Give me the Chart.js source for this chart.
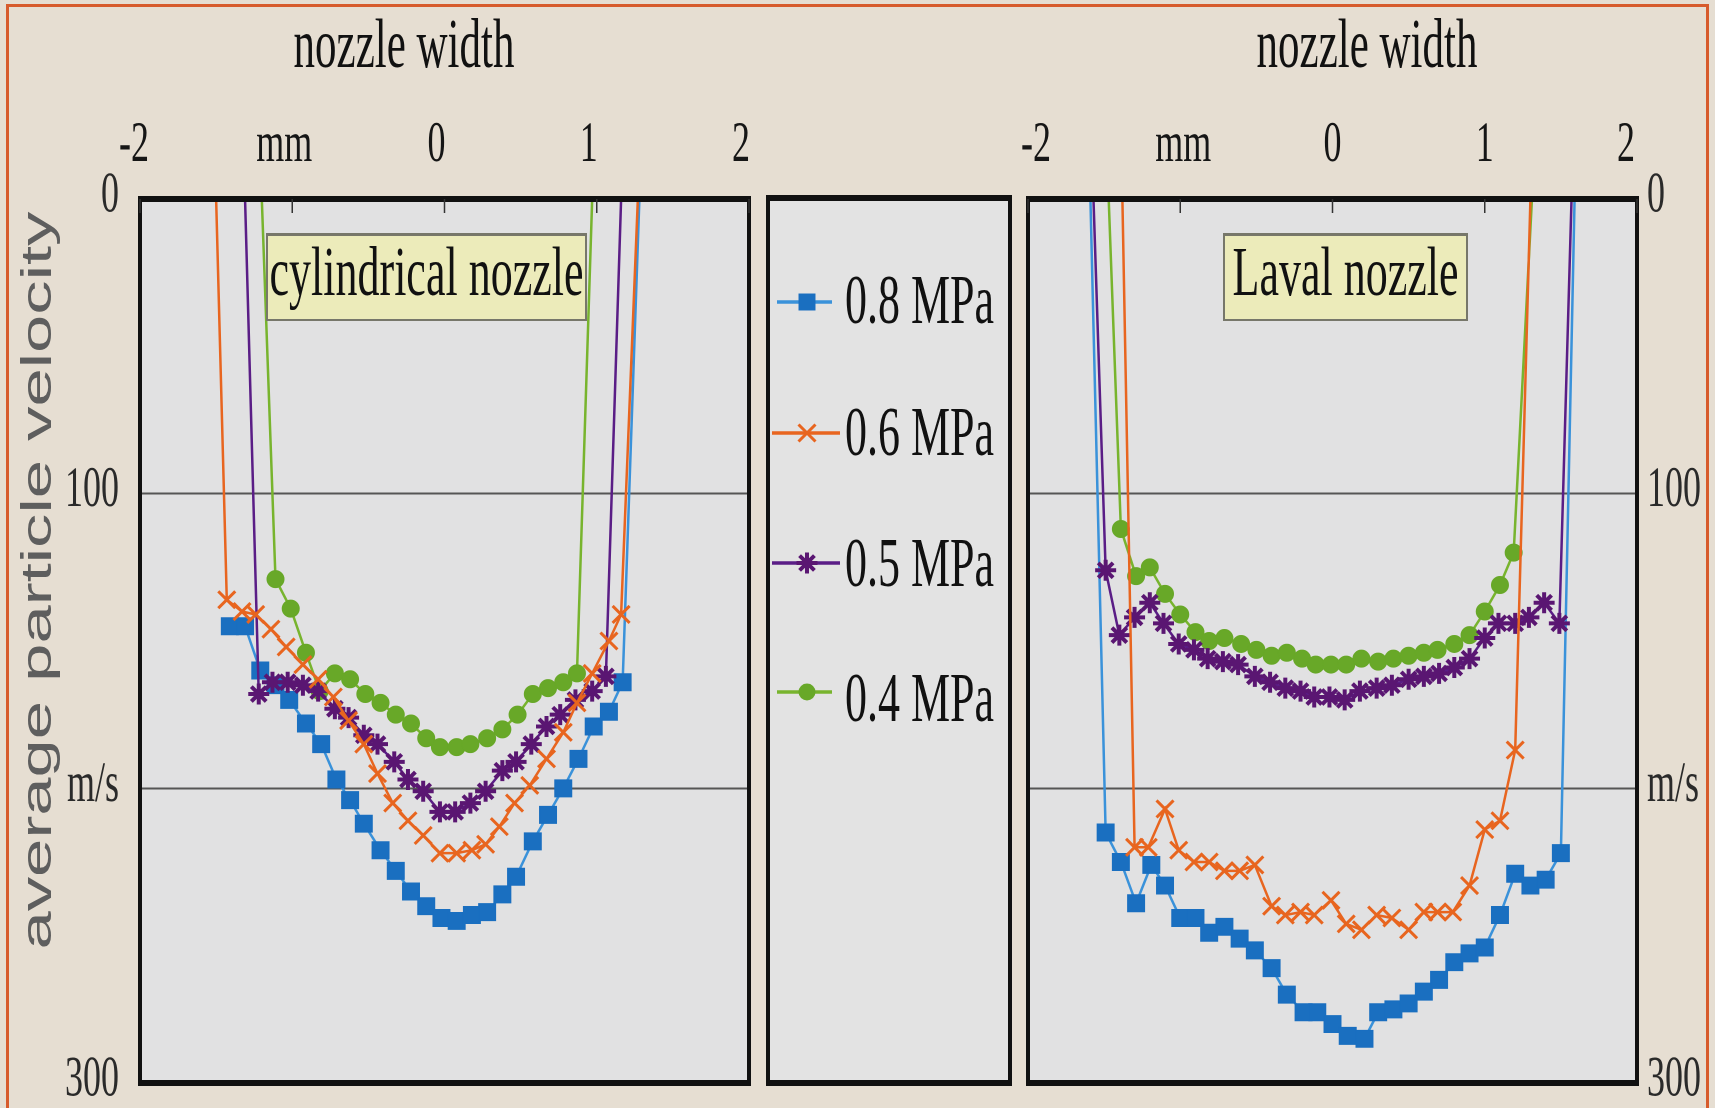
<!DOCTYPE html>
<html>
<head>
<meta charset="utf-8">
<title>average particle velocity - cylindrical / Laval nozzle</title>
<script src="https://cdn.jsdelivr.net/npm/chart.js@4.4.1/dist/chart.umd.min.js"></script>
<style>
  html, body { margin: 0; padding: 0; background: #e6ded2; }
  #stage { position: relative; width: 1715px; height: 1108px; overflow: hidden; background: #e6ded2; }
  .frame { position: absolute; left: 6px; top: 4px; width: 1703px; height: 1300px; box-sizing: border-box; border: 3px solid #d75b2c; }
  .wrap { position: absolute; top: 0; height: 1108px; }
  .tall { position: absolute; font-family: "Liberation Serif", "Times New Roman", serif; color: #111;
          white-space: nowrap; transform: scaleY(1.6); transform-origin: 50% 50%; }
  .ttl { font-size: 43px; line-height: 43px; height: 43px; width: 400px; text-align: center; top: 22px; }
  #legendBox { position: absolute; left: 766px; top: 195px; width: 246px; height: 891px; box-sizing: border-box;
               background: #e3e3e3; border-left: 4px solid #111; border-right: 4px solid #111;
               border-top: 6px solid #111; border-bottom: 6px solid #111; }
  #legendMarks { position: absolute; left: 766px; top: 195px; }
  .leg { font-size: 44px; line-height: 44px; height: 44px; left: 845px; transform-origin: 0 50%; }
  .note { position: absolute; top: 233px; height: 88px; box-sizing: border-box; background: #ecebba;
          border: 2px solid #77776a; border-top-width: 3px; display: flex; justify-content: center; padding-top: 15px; }
  .note span { position: static; font-size: 44px; line-height: 44px; height: 44px; }
  #yTitle { position: absolute; left: -264px; top: 559px; width: 600px; height: 43px; line-height: 43px;
            text-align: center; font-family: "Liberation Sans", Arial, sans-serif; font-size: 43px; color: #5e5e5e;
            transform: rotate(-90deg) scaleX(1.6); transform-origin: 50% 50%; white-space: nowrap; }
</style>
</head>
<body>
<div id="stage">
  <div class="frame"></div>

  <div class="tall ttl" style="left:204px">nozzle width</div>
  <div class="tall ttl" style="left:1167px">nozzle width</div>
  <div id="yTitle">average particle velocity</div>

  <div class="wrap" style="left:0; width:790px"><canvas id="cylChart"></canvas></div>
  <div class="wrap" style="left:1000px; width:715px"><canvas id="lavChart"></canvas></div>

  <div id="legendBox"></div>
  <canvas id="legendMarks" width="246" height="891"></canvas>
  <div class="tall leg" style="top:279px" id="leg0"></div>
  <div class="tall leg" style="top:411px" id="leg1"></div>
  <div class="tall leg" style="top:542px" id="leg2"></div>
  <div class="tall leg" style="top:677px" id="leg3"></div>

  <div class="note" style="left:266px; width:321px"><span class="tall">cylindrical nozzle</span></div>
  <div class="note" style="left:1223px; width:245px"><span class="tall">Laval nozzle</span></div>
</div>

<script>
// --- データ ---
// x: nozzle width [mm], y: average particle velocity [m/s], 0 = wall (top edge)
const xTickValues = [-2, -1, 0, 1, 2];
const xTickLabels = ['-2', 'mm', '0', '1', '2'];
const yTickValues = [0, 100, 200, 300];
const yTickLabels = ['0', '100', 'm/s', '300'];
const pressures = ['0.8 MPa', '0.6 MPa', '0.5 MPa', '0.4 MPa'];

// cylindrical nozzle
const cyl08 = [
  [-1.41, 145], [-1.31, 145], [-1.21, 160], [-1.11, 165], [-1.02, 170],
  [-0.91, 178], [-0.81, 185], [-0.71, 197], [-0.62, 204], [-0.53, 212],
  [-0.42, 221], [-0.32, 228], [-0.22, 235], [-0.12, 240], [-0.02, 244],
  [0.08, 245], [0.18, 243], [0.28, 242], [0.38, 236], [0.47, 230],
  [0.58, 218], [0.68, 209], [0.78, 200], [0.88, 190], [0.98, 179],
  [1.08, 174], [1.17, 164], [1.28, 0]
];
const cyl06 = [
  [-1.50, 0], [-1.43, 136], [-1.33, 140], [-1.24, 141], [-1.14, 146],
  [-1.04, 152], [-0.93, 158], [-0.83, 163], [-0.73, 169], [-0.63, 177],
  [-0.53, 185], [-0.44, 195], [-0.34, 205], [-0.24, 211], [-0.14, 216],
  [-0.03, 222], [0.08, 222], [0.18, 221], [0.27, 219], [0.36, 213],
  [0.46, 205], [0.56, 199], [0.67, 190], [0.78, 181], [0.87, 171],
  [0.97, 161], [1.08, 150], [1.16, 141], [1.27, 0]
];
const cyl05 = [
  [-1.31, 0], [-1.22, 168], [-1.13, 164], [-1.03, 164], [-0.93, 165],
  [-0.83, 167], [-0.72, 173], [-0.63, 176], [-0.53, 182], [-0.44, 185],
  [-0.33, 191], [-0.24, 197], [-0.14, 201], [-0.03, 208], [0.07, 208],
  [0.17, 205], [0.27, 201], [0.38, 194], [0.47, 191], [0.57, 185],
  [0.67, 179], [0.76, 175], [0.86, 170], [0.97, 167], [1.06, 162],
  [1.16, 0]
];
const cyl04 = [
  [-1.20, 0], [-1.11, 129], [-1.01, 139], [-0.91, 154], [-0.82, 167],
  [-0.72, 161], [-0.62, 163], [-0.52, 168], [-0.42, 171], [-0.32, 175],
  [-0.22, 178], [-0.12, 183], [-0.03, 186], [0.08, 186], [0.17, 185],
  [0.28, 183], [0.38, 180], [0.48, 175], [0.58, 168], [0.68, 166],
  [0.78, 164], [0.87, 161], [0.97, 0]
];

// Laval nozzle
const lav08 = [
  [-1.59, 0], [-1.49, 215], [-1.39, 225], [-1.29, 239], [-1.19, 226],
  [-1.10, 233], [-1.00, 244], [-0.90, 244], [-0.81, 249], [-0.71, 247],
  [-0.61, 251], [-0.51, 255], [-0.40, 261], [-0.30, 270], [-0.19, 276],
  [-0.10, 276], [0.00, 280], [0.10, 284], [0.21, 285], [0.30, 276],
  [0.40, 275], [0.50, 273], [0.60, 269], [0.70, 265], [0.80, 259],
  [0.90, 256], [1.00, 254], [1.10, 243], [1.20, 229], [1.30, 233],
  [1.40, 231], [1.50, 222], [1.59, 0]
];
const lav06 = [
  [-1.38, 0], [-1.30, 220], [-1.21, 220], [-1.10, 207], [-1.01, 221],
  [-0.91, 225], [-0.81, 225], [-0.71, 228], [-0.61, 228], [-0.51, 226],
  [-0.40, 240], [-0.31, 243], [-0.21, 242], [-0.12, 243], [-0.01, 238],
  [0.09, 246], [0.19, 248], [0.29, 243], [0.39, 244], [0.50, 248],
  [0.60, 242], [0.69, 242], [0.79, 242], [0.90, 233], [1.00, 214],
  [1.10, 211], [1.20, 187], [1.30, 0]
];
const lav05 = [
  [-1.57, 0], [-1.49, 126], [-1.40, 148], [-1.30, 142], [-1.20, 137],
  [-1.11, 144], [-1.01, 151], [-0.91, 153], [-0.82, 156], [-0.72, 157],
  [-0.62, 158], [-0.51, 162], [-0.41, 164], [-0.31, 166], [-0.21, 167],
  [-0.12, 169], [-0.02, 169], [0.08, 170], [0.18, 167], [0.29, 166],
  [0.39, 165], [0.50, 163], [0.60, 162], [0.70, 161], [0.80, 159],
  [0.90, 156], [1.00, 149], [1.09, 144], [1.20, 144], [1.29, 142],
  [1.39, 137], [1.49, 144], [1.57, 0]
];
const lav04 = [
  [-1.47, 0], [-1.39, 112], [-1.29, 128], [-1.20, 125], [-1.10, 134],
  [-1.00, 141], [-0.90, 147], [-0.81, 150], [-0.71, 149], [-0.60, 151],
  [-0.50, 153], [-0.40, 155], [-0.30, 154], [-0.20, 156], [-0.11, 158],
  [-0.01, 158], [0.09, 158], [0.19, 156], [0.30, 157], [0.40, 156],
  [0.50, 155], [0.60, 154], [0.69, 153], [0.80, 151], [0.90, 148],
  [1.00, 140], [1.10, 131], [1.19, 120], [1.31, 0]
];

// --- 見た目 ---
const STRETCH = 1.6;   // 元図は横に潰れているので文字を縦長にする
const TICK_SIZE = 36;

const seriesStyle = [
  { line: '#3a92da', fill: '#1a6fc0', shape: 'rect', r: 12, bw: 1 },
  { line: '#e8651f', fill: '#e8651f', shape: 'crossRot', r: 12, bw: 3 },
  { line: '#5a1d86', fill: '#5a1672', shape: 'star', r: 10.5, bw: 4 },
  { line: '#78b42e', fill: '#68a828', shape: 'circle', r: 8.5, bw: 1 }
];
const drawOrder = [1, 2, 3, 0]; // 先頭が一番上に描かれる

function tallText(ctx, s, x, baseline) {
  ctx.save();
  ctx.translate(x, baseline);
  ctx.scale(1, STRETCH);
  ctx.fillText(s, 0, 0);
  ctx.restore();
}

// 枠・目盛り・目盛りラベル
const nozzleAxes = {
  id: 'nozzleAxes',
  beforeDraw(chart) {
    const { ctx, chartArea: a } = chart;
    ctx.save();
    ctx.fillStyle = '#e1e1e2';
    ctx.fillRect(a.left, a.top, a.width, a.height);
    ctx.restore();
  },
  afterDraw(chart, args, opts) {
    const { ctx, chartArea: a } = chart;
    const xs = chart.scales.x, ys = chart.scales.y;
    ctx.save();
    ctx.fillStyle = '#111';
    ctx.fillRect(a.left - 2, a.top - 3, a.width + 4, 6);
    ctx.fillRect(a.left - 2, a.bottom - 3, a.width + 4, 6);
    ctx.fillRect(a.left - 2, a.top, 4, a.height);
    ctx.fillRect(a.right - 2, a.top, 4, a.height);

    ctx.strokeStyle = '#333';
    ctx.lineWidth = 1.5;
    xTickValues.forEach(v => {
      const px = xs.getPixelForValue(v);
      ctx.beginPath();
      ctx.moveTo(px, a.top);
      ctx.lineTo(px, a.top + 14);
      ctx.stroke();
    });

    ctx.font = TICK_SIZE + 'px "Liberation Serif", serif';
    ctx.fillStyle = '#161616';
    ctx.textAlign = 'center';
    ctx.textBaseline = 'alphabetic';
    xTickValues.forEach((v, i) => {
      tallText(ctx, xTickLabels[i], xs.getPixelForValue(v) + opts.xShift[i], a.top - 38);
    });

    ctx.fillStyle = '#2a2a2a';
    ctx.textAlign = opts.side === 'left' ? 'right' : 'left';
    const lx = opts.side === 'left' ? a.left - 21 : a.right + 10;
    yTickValues.forEach((v, i) => {
      tallText(ctx, yTickLabels[i], lx, ys.getPixelForValue(v) + 12.5);
    });
    ctx.restore();
  }
};

function nozzleChart(canvasId, series, side, padding, xShift) {
  const datasets = drawOrder.map(i => {
    const st = seriesStyle[i];
    return {
      label: pressures[i],
      data: series[i].map(([x, v]) => ({ x: x, y: v })),
      borderColor: st.line,
      borderWidth: 2.5,
      pointStyle: st.shape,
      pointRadius: c => (c.raw && c.raw.y === 0 ? 0 : st.r),
      pointBackgroundColor: st.fill,
      pointBorderColor: st.fill,
      pointBorderWidth: st.bw,
      tension: 0,
      fill: false
    };
  });

  return new Chart(document.getElementById(canvasId), {
    type: 'line',
    data: { datasets: datasets },
    options: {
      responsive: true,
      maintainAspectRatio: false,
      animation: false,
      devicePixelRatio: 2,
      layout: { padding: padding },
      scales: {
        x: {
          type: 'linear', position: 'top', min: -2, max: 2,
          ticks: { display: false, stepSize: 1 },
          grid: { display: false },
          border: { display: false }
        },
        y: {
          type: 'linear', position: side, reverse: true, min: 0, max: 300,
          ticks: { display: false, stepSize: 100 },
          grid: { color: '#555', lineWidth: 2, drawTicks: false },
          border: { display: false }
        }
      },
      plugins: {
        legend: { display: false },
        tooltip: { enabled: false },
        nozzleAxes: { side: side, xShift: xShift }
      }
    },
    plugins: [nozzleAxes]
  });
}

nozzleChart('cylChart', [cyl08, cyl06, cyl05, cyl04], 'left',
  { left: 140, top: 191, right: 41, bottom: 25 }, [-6, -8, -8, -8, -8]);
nozzleChart('lavChart', [lav08, lav06, lav05, lav04], 'right',
  { left: 28, top: 191, right: 78, bottom: 25 }, [8, 3, 0, 0, -11]);

// --- 凡例 (中央の箱) ---
function drawMark(g, st, x, y) {
  g.fillStyle = st.fill;
  g.strokeStyle = st.fill;
  g.lineWidth = st.bw;
  g.beginPath();
  if (st.shape === 'rect') {
    const s = st.r * Math.SQRT1_2;
    g.rect(x - s, y - s, 2 * s, 2 * s);
    g.fill();
  } else if (st.shape === 'circle') {
    g.arc(x, y, st.r, 0, Math.PI * 2);
    g.fill();
  } else {
    const d = st.r * Math.SQRT1_2;
    g.moveTo(x - d, y - d); g.lineTo(x + d, y + d);
    g.moveTo(x + d, y - d); g.lineTo(x - d, y + d);
    if (st.shape === 'star') {
      g.moveTo(x, y - st.r); g.lineTo(x, y + st.r);
      g.moveTo(x - st.r, y); g.lineTo(x + st.r, y);
    }
    g.stroke();
  }
}

const legendRows = [
  { y: 107, x0: 11, x1: 66 },
  { y: 238, x0: 6, x1: 74 },
  { y: 368, x0: 6, x1: 74 },
  { y: 497, x0: 11, x1: 66 }
];
const lg = document.getElementById('legendMarks').getContext('2d');
legendRows.forEach((row, i) => {
  const st = seriesStyle[i];
  lg.strokeStyle = st.line;
  lg.lineWidth = 3.5;
  lg.beginPath();
  lg.moveTo(row.x0, row.y);
  lg.lineTo(row.x1, row.y);
  lg.stroke();
  drawMark(lg, st, 41, row.y);
  document.getElementById('leg' + i).textContent = pressures[i];
});
</script>
</body>
</html>
